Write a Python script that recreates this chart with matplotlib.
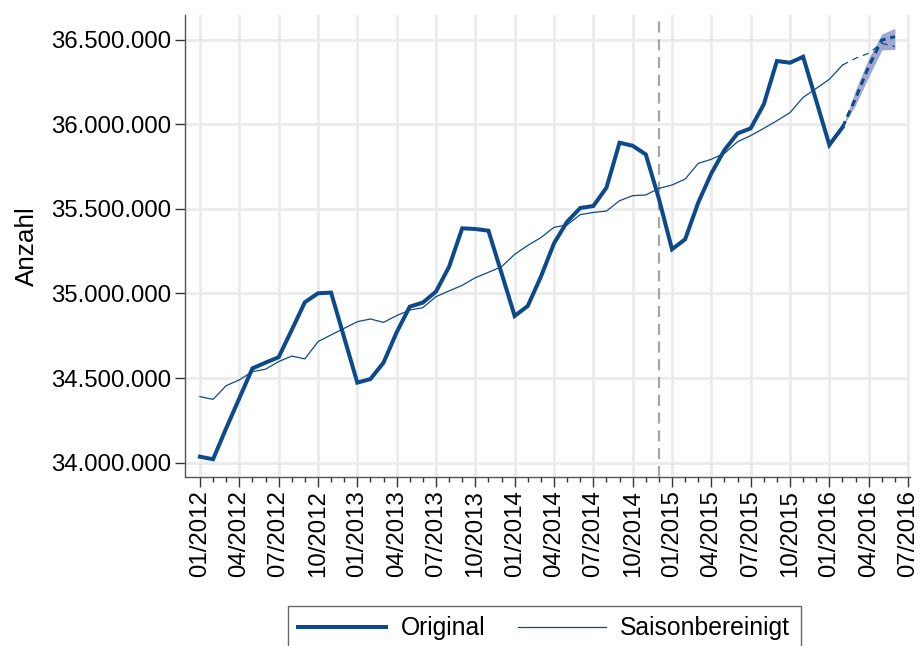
import matplotlib
matplotlib.use("Agg")
import matplotlib.pyplot as plt
from matplotlib.ticker import FuncFormatter, MultipleLocator
from matplotlib.lines import Line2D

plt.rcParams['font.family'] = ['Liberation Sans', 'DejaVu Sans']

# month index 0 = 01/2012
start_year = 2012
original = [34035, 34020, 34203, 34380, 34557, 34591, 34623, 34784, 34948, 35001,
            35005, 34739, 34473, 34494, 34591, 34770, 34922, 34946, 35011, 35158,
            35385, 35381, 35371, 35120, 34867, 34926, 35099, 35296, 35424, 35505,
            35517, 35625, 35891, 35873, 35822, 35560, 35261, 35320, 35537, 35710,
            35848, 35946, 35976, 36118, 36374, 36364, 36399, 36139, 35878, 35982]
saisonbereinigt = [34390, 34374, 34455, 34489, 34538, 34552, 34597, 34630, 34613, 34715,
                   34755, 34794, 34833, 34849, 34829, 34869, 34902, 34916, 34981, 35015,
                   35048, 35093, 35125, 35158, 35231, 35284, 35330, 35391, 35405, 35466,
                   35479, 35487, 35548, 35578, 35582, 35621, 35641, 35676, 35769, 35793,
                   35828, 35897, 35933, 35976, 36021, 36069, 36159, 36212, 36266, 36350]
fc_months = [49, 50, 51, 52, 53]
fc_original = [35982, 36154, 36341, 36498, 36518]
fc_saison = [36350, 36390, 36420, 36479, 36459]
fc_lower = [35982, 36114, 36281, 36439, 36443]
fc_upper = [35982, 36203, 36390, 36534, 36567]
break_month = 35  # 12/2014
tick_months = list(range(0, 55, 3))

navy = '#0e4a8a'
scale = 1000
fs = 17.3

fig = plt.figure(figsize=(9.21, 6.46), dpi=100)
ax = fig.add_axes([185/921, 1-477/646, (910-185)/921, (477-15)/646])

m = list(range(len(original)))
ax.fill_between(fc_months, [v*scale for v in fc_lower], [v*scale for v in fc_upper],
                color='#8f99c9', alpha=0.85, linewidth=0, zorder=2)
ax.plot(m, [v*scale for v in original], color=navy, lw=2.9, zorder=4, solid_joinstyle='miter')
ax.plot(m, [v*scale for v in saisonbereinigt], color=navy, lw=0.9, zorder=4)
ax.plot(fc_months, [v*scale for v in fc_original], color=navy, lw=2.2, ls=(0, (2.2, 1.6)), zorder=5)
ax.plot(fc_months, [v*scale for v in fc_saison], color=navy, lw=0.9, ls=(0, (5, 4)), zorder=5)
ax.axvline(break_month, color='#a6a6a6', lw=1.6, ls=(0, (5, 3)), zorder=3)

ax.set_xlim(-1.14, 54.15)
ax.set_ylim(33915000, 36646000)

ax.yaxis.set_major_locator(MultipleLocator(500000))
ax.yaxis.set_major_formatter(FuncFormatter(lambda v, p: f"{int(round(v)):,}".replace(',', '.')))
ax.set_xticks(tick_months)
ax.set_xticklabels([f"{(mm % 12)+1:02d}/{start_year + mm // 12}" for mm in tick_months],
                   rotation=90)
ax.set_xticks(range(0, 55), minor=True)

ax.grid(True, which='major', color='#ebebeb', lw=2.0, zorder=0)
ax.set_axisbelow(True)
for s in ['top', 'right']:
    ax.spines[s].set_visible(False)
for s in ['left', 'bottom']:
    ax.spines[s].set_color('#555555')
    ax.spines[s].set_linewidth(1.0)
ax.tick_params(axis='both', which='major', labelsize=fs, length=7.2, width=1.0,
               color='#333333', pad=2.5)
ax.tick_params(axis='x', which='minor', length=3.6, width=1.0, color='#333333')
ax.set_ylabel('Anzahl', fontsize=18.8)
ax.yaxis.set_label_coords(-0.2017, 0.5)

handles = [Line2D([], [], color=navy, lw=2.9), Line2D([], [], color=navy, lw=0.9)]
leg = fig.legend(handles, ['Original', 'Saisonbereinigt'], loc='upper left',
                 bbox_to_anchor=(288/921, 1-606/646), ncol=2, fontsize=17.8,
                 frameon=True, fancybox=False, edgecolor='#444444',
                 handlelength=3.55, handletextpad=0.6, columnspacing=1.3,
                 borderpad=0.42, borderaxespad=0)
leg.get_frame().set_linewidth(1.0)

fig.savefig('out.png', dpi=100)
